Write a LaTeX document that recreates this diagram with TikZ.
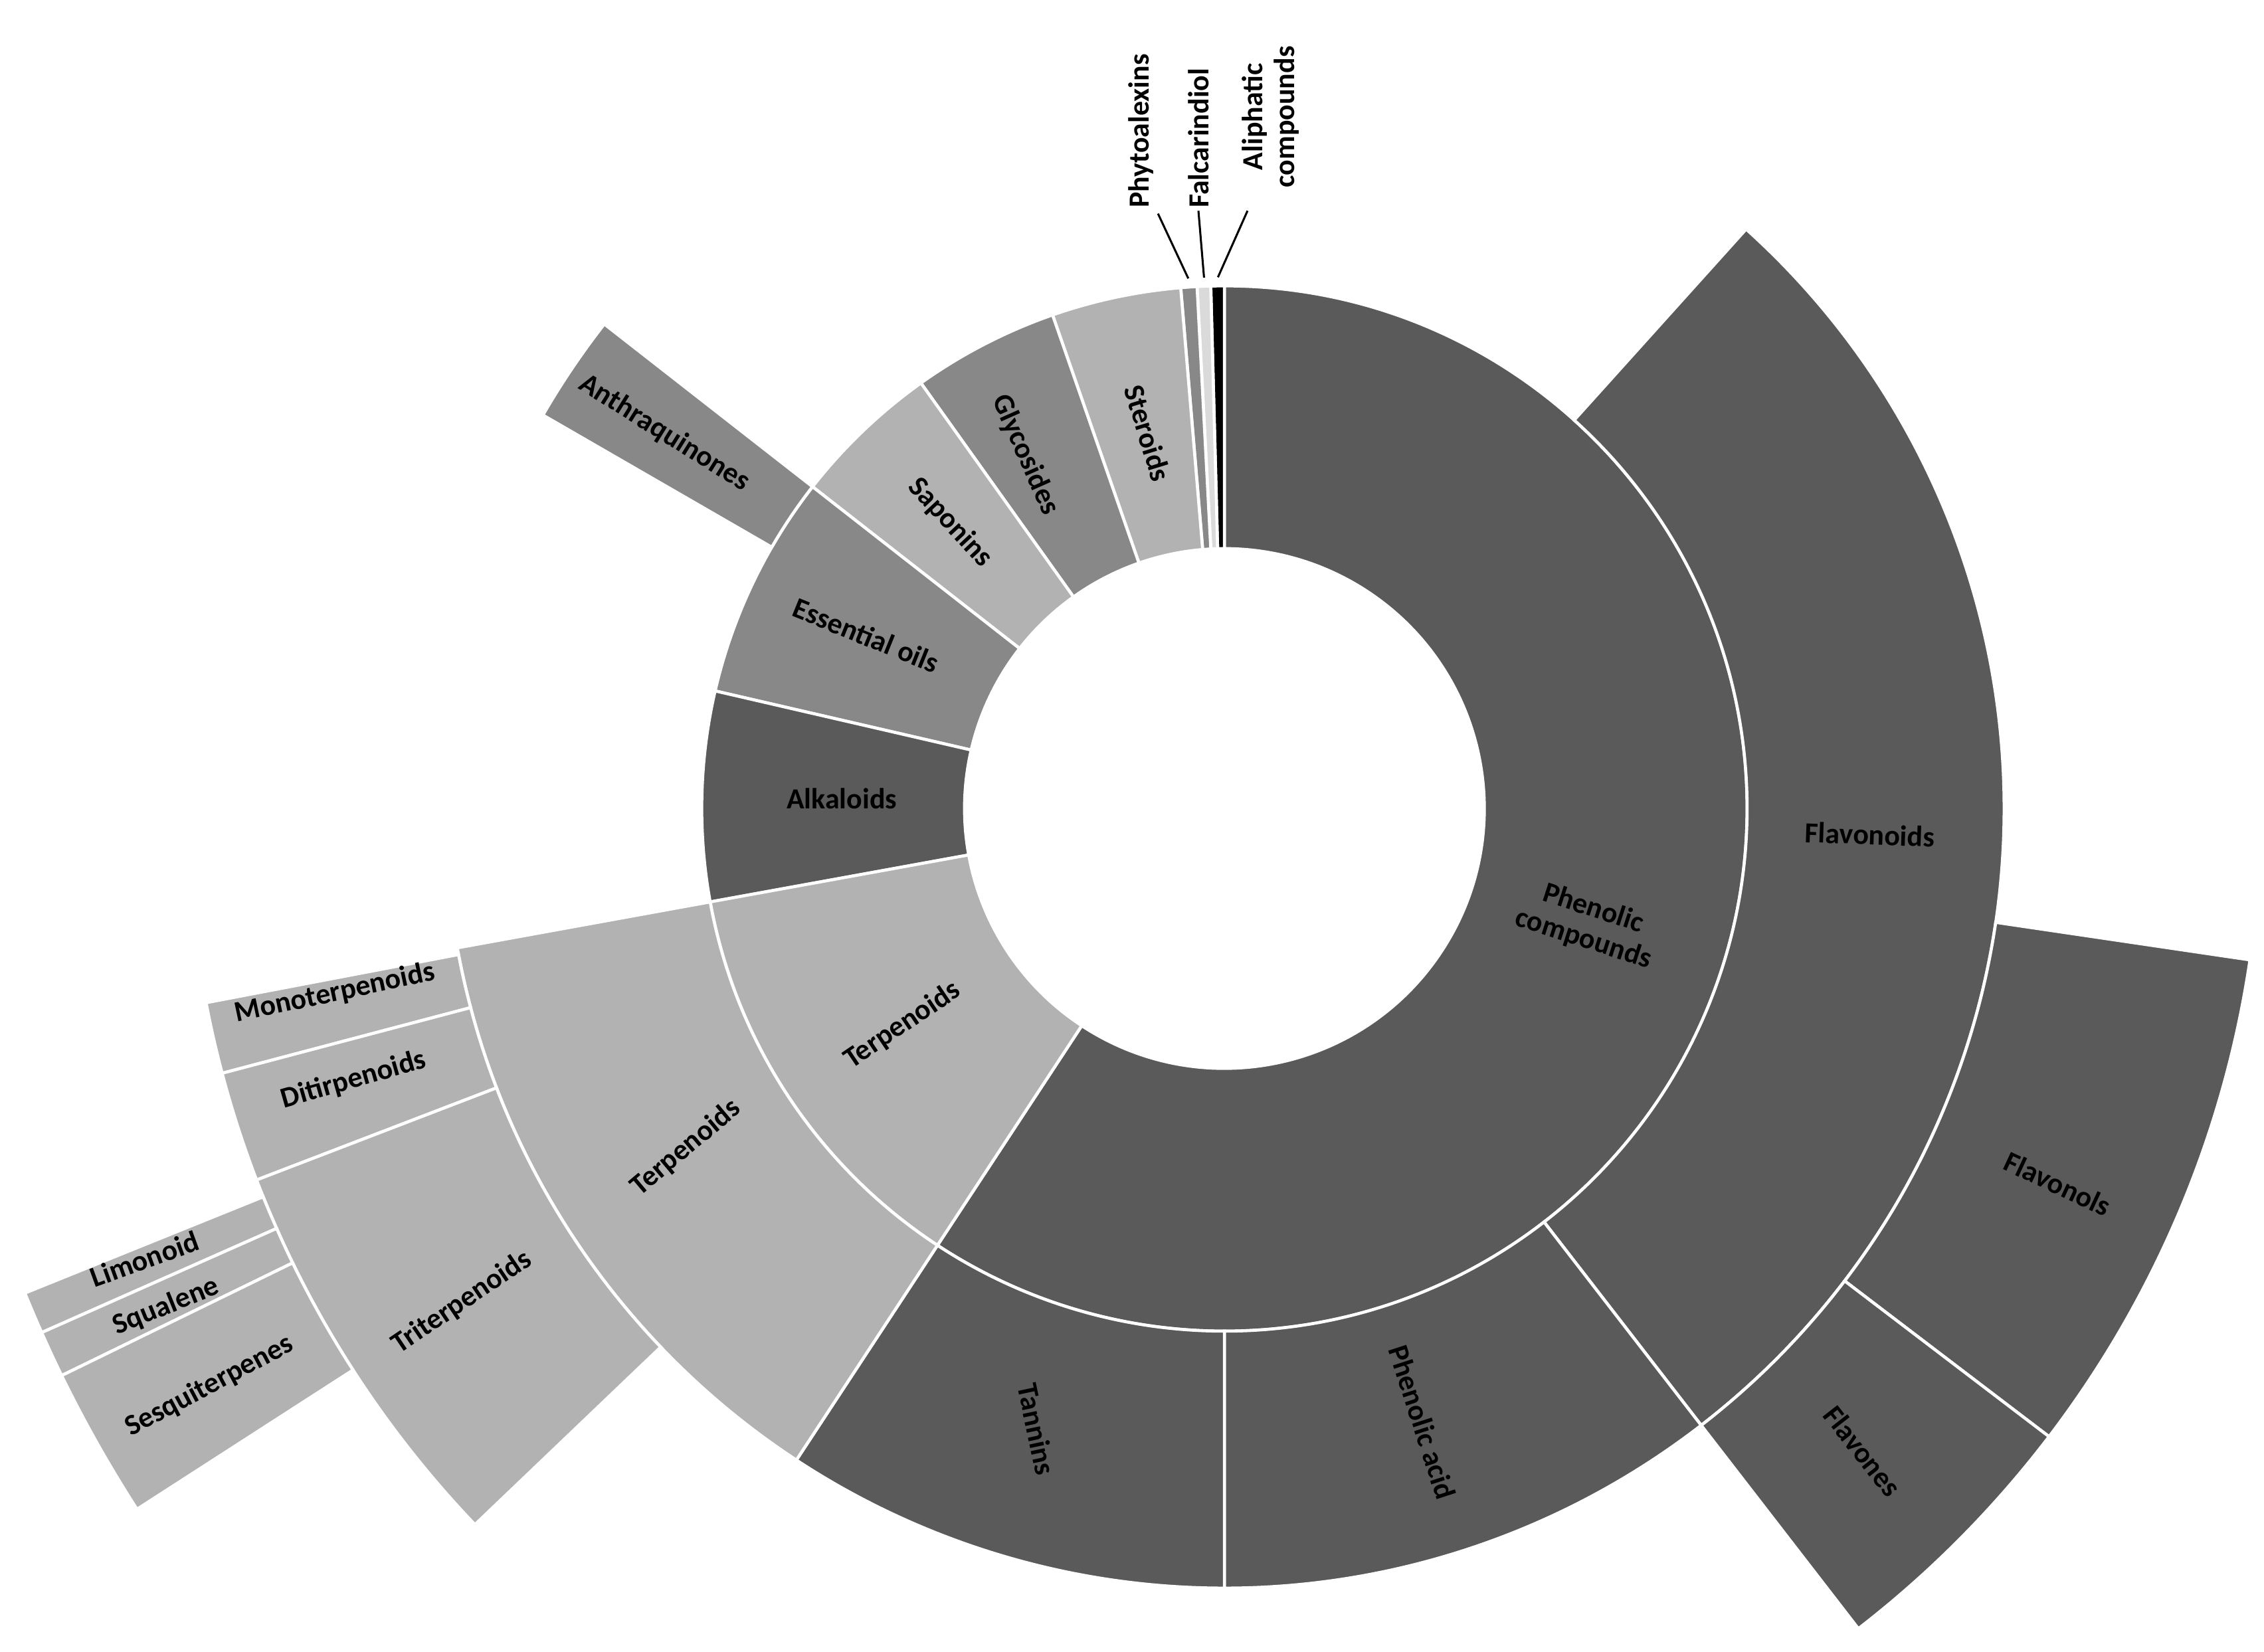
\documentclass[tikz,border=0pt]{standalone}
\usepackage{fontspec}
\setmainfont{Carlito}
\definecolor{dark}{RGB}{90,90,90}
\definecolor{mid}{RGB}{136,136,136}
\definecolor{light}{RGB}{178,178,178}
\definecolor{pale}{RGB}{218,218,218}
\tikzstyle{sector} = [draw=white, line width=1.2pt]
\tikzstyle{lbl} = [font=\fontsize{11.5}{12.5}\selectfont\bfseries, align=center, inner sep=1pt]
\newcommand{\sector}[5]{\filldraw[sector, fill=#5] (#1:#3) arc (#1:#2:#3) -- (#2:#4) arc (#2:#1:#4) -- cycle;}
\begin{document}
\begin{tikzpicture}[x=0.02cm, y=0.02cm]
	\useasboundingbox (0,0) rectangle (1568,1144);
	\begin{scope}[shift={(848,584)}]
	% Ring 1
	\sector{-123.3}{90}{180}{362}{dark}
	\sector{90}{91.5}{180}{362}{black}
	\sector{91.5}{93}{180}{362}{pale}
	\sector{93}{94.8}{180}{362}{mid}
	\sector{94.8}{109.2}{180}{362}{light}
	\sector{109.2}{125.5}{180}{362}{mid}
	\sector{125.5}{142}{180}{362}{light}
	\sector{142}{167}{180}{362}{mid}
	\sector{167}{190.3}{180}{362}{dark}
	\sector{190.3}{236.7}{180}{362}{light}
	% Ring 2
	\sector{-52.3}{48}{362}{540}{dark}
	\sector{-90}{-52.3}{362}{540}{dark}
	\sector{-123.3}{-90}{362}{540}{dark}
	\sector{190.3}{236.7}{362}{540}{light}
	\sector{142}{150}{362}{545}{mid}
	% Ring 3
	\sector{-37.3}{-8.4}{540}{718}{dark}
	\sector{-52.3}{-37.3}{540}{718}{dark}
	\sector{190.8}{194.8}{540}{718}{light}
	\sector{194.8}{201}{540}{718}{light}
	\sector{201}{223.7}{540}{718}{light}
	% Ring 4
	\sector{202}{203.9}{718}{896}{light}
	\sector{203.9}{206}{718}{896}{light}
	\sector{206}{212.8}{718}{896}{light}
	% Leaders
	\coordinate (phytoend) at (93.9:368);
	\coordinate (falcend) at (92.2:368);
	\coordinate (aliphend) at (90.7:368);
	\end{scope}
	% Nodes
	\node [lbl, rotate=-18] (PhenolicComp) at (1100,504) {Phenolic\\compounds};
	\node [lbl, rotate=-2] (Flavonoids) at (1295,566) {Flavonoids};
	\node [lbl, rotate=-25] (Flavonols) at (1425,324) {Flavonols};
	\node [lbl, rotate=-52] (Flavones) at (1290,139) {Flavones};
	\node [lbl, rotate=-72] (PhenolicAcid) at (985,159) {Phenolic acid};
	\node [lbl, rotate=-78] (Tannins) at (718,154) {Tannins};
	\node [lbl, rotate=34] (TerpInner) at (625,434) {Terpenoids};
	\node [lbl, rotate=40] (TerpOuter) at (475,349) {Terpenoids};
	\node [lbl, rotate=12] (Mono) at (232,456) {Monoterpenoids};
	\node [lbl, rotate=16] (Diti) at (245,396) {Ditirpenoids};
	\node [lbl, rotate=34] (Tri) at (320,242) {Triterpenoids};
	\node [lbl, rotate=20] (Limonoid) at (100,272) {Limonoid};
	\node [lbl, rotate=22] (Squalene) at (115,239) {Squalene};
	\node [lbl, rotate=28] (Sesqui) at (145,184) {Sesquiterpenes};
	\node [lbl] (Alkaloids) at (583,591) {Alkaloids};
	\node [lbl, rotate=-22] (EssOils) at (600,704) {Essential oils};
	\node [lbl, rotate=-32] (Anthra) at (460,844) {Anthraquinones};
	\node [lbl, rotate=-47] (Saponins) at (658,782) {Saponins};
	\node [lbl, rotate=-66] (Glycosides) at (710,829) {Glycosides};
	\node [lbl, rotate=-73] (Steroids) at (795,844) {Steroids};
	\node [lbl, rotate=90, anchor=west] (Phyto) at (790,998) {Phytoalexins};
	\node [lbl, rotate=90, anchor=west] (Falc) at (830,998) {Falcarindiol};
	\node [lbl, rotate=90, anchor=west] (Aliph) at (880,1012) {Aliphatic\\compounds};
	% Arrows
	\draw [thick] (Phyto.west) ++(12,-2) -- (phytoend);
	\draw [thick] (Falc.west) -- (falcend);
	\draw [thick] (Aliph.west) ++(-16,-14) -- (aliphend);
\end{tikzpicture}
\end{document}
